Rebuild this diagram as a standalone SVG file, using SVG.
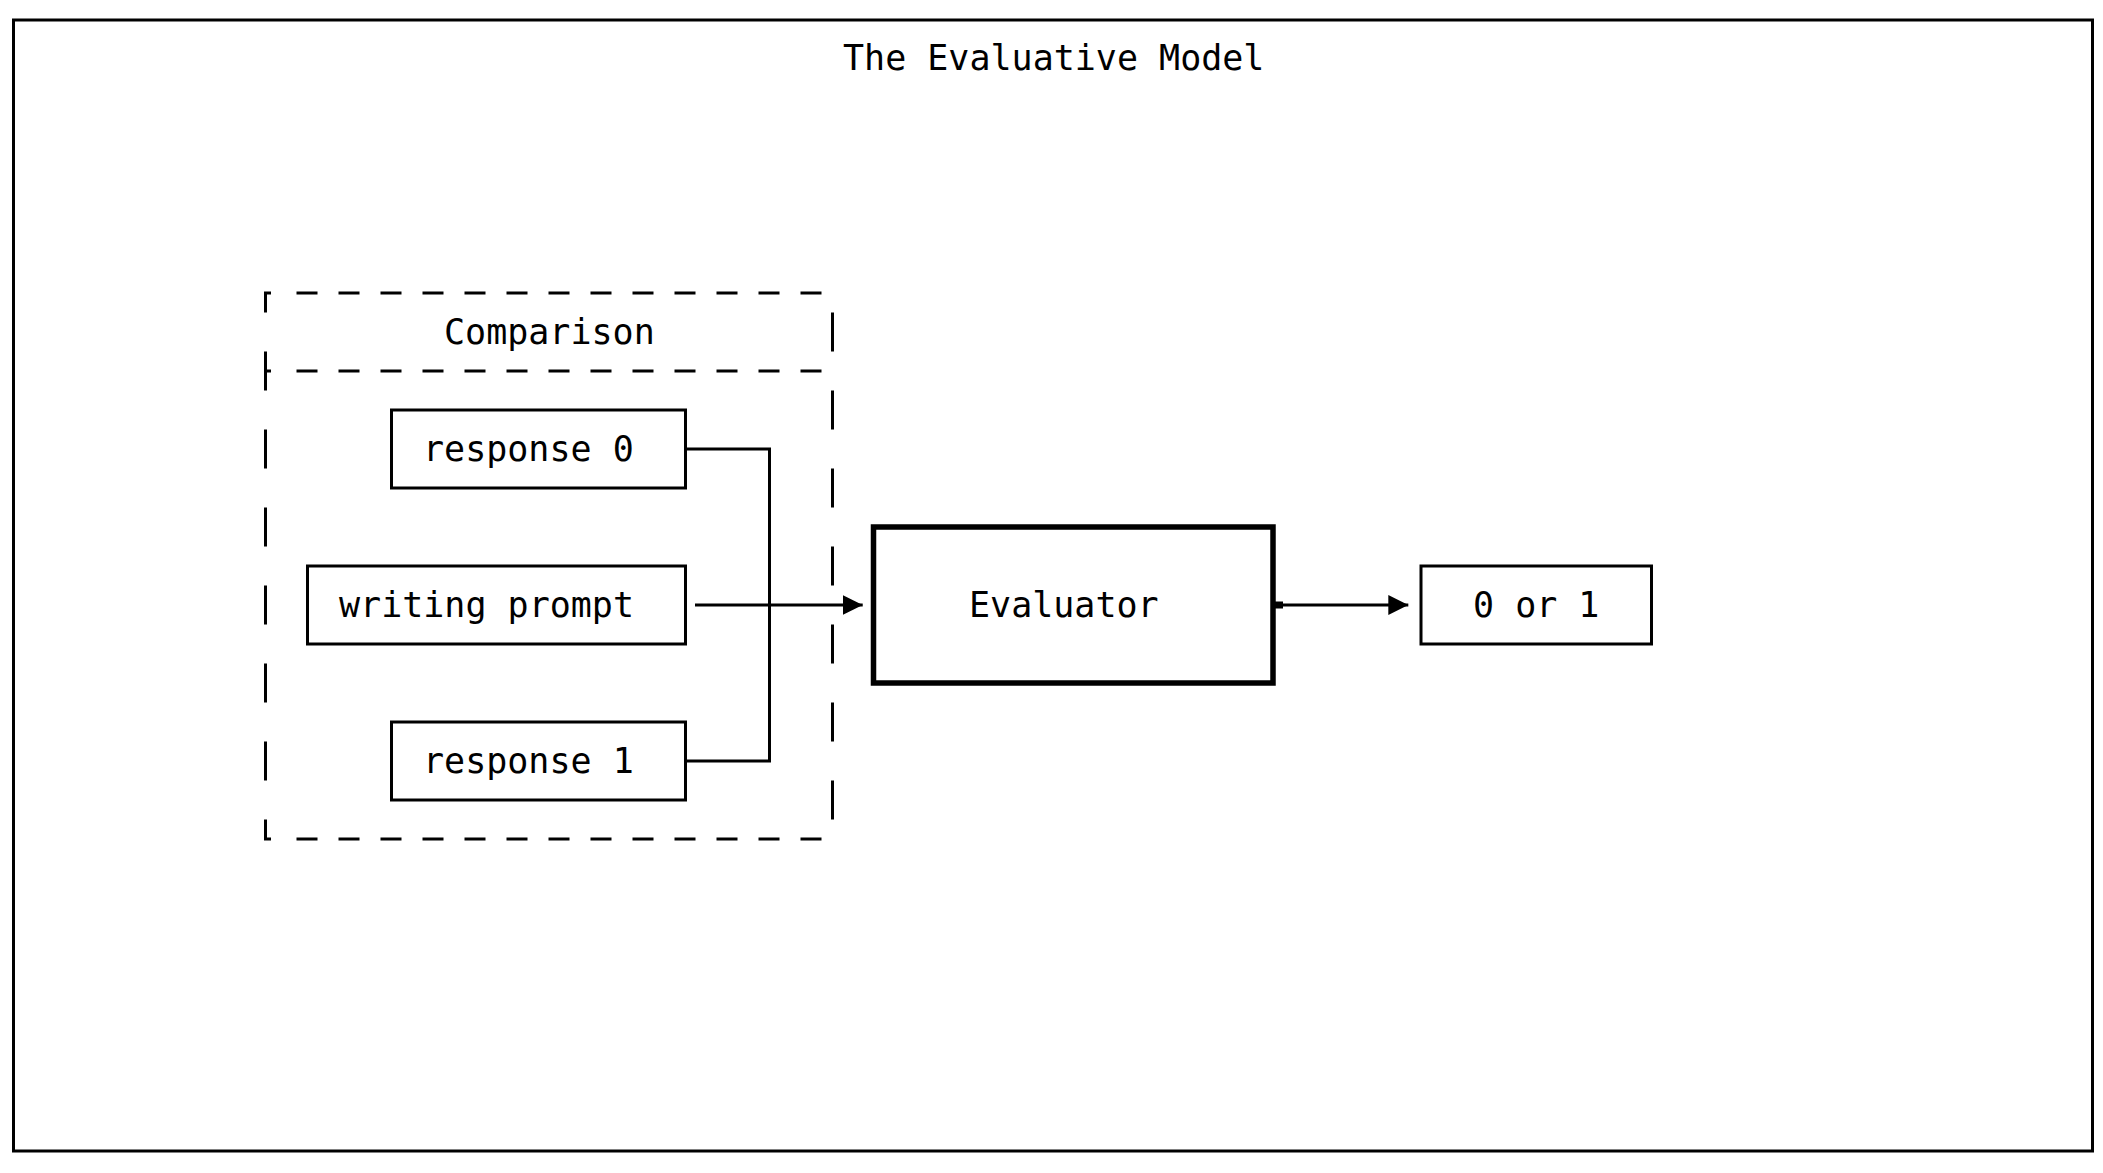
<svg xmlns="http://www.w3.org/2000/svg" width="2103" height="1173" viewBox="0 0 2103 1173">
<defs>
<style>
.t{font-family:"DejaVu Sans Mono","Liberation Mono",monospace;font-size:35px;fill:#000}
.box{fill:#fff;stroke:#000;stroke-width:3}
.thick{fill:#fff;stroke:#000;stroke-width:5.5}
.ln{fill:none;stroke:#000;stroke-width:3}
</style>
<marker id="arr" markerUnits="userSpaceOnUse" markerWidth="21" markerHeight="21" refX="20" refY="10" orient="auto" viewBox="0 0 21 21">
<path d="M0,0 L20,10 L0,20 z" fill="#000"/>
</marker>
</defs>
<rect x="0" y="0" width="2103" height="1173" fill="#fff"/>
<g id="frame">
<rect x="13.5" y="20" width="2079" height="1131" fill="none" stroke="#000" stroke-width="3"/>
<text class="t" x="843" y="70">The Evaluative Model</text>
</g>
<g id="comparison">
<path class="ln" d="M296.5 293 H821.5 M296.5 371 H821.5 M296.5 839 H821.5" stroke-dasharray="21 21"/>
<path class="ln" d="M832.5 312.5 V819.5" stroke-dasharray="39 39"/>
<path class="ln" d="M265.5 429.5 V780.5" stroke-dasharray="39 39"/>
<path class="ln" d="M271 293 H265.5 V312.5 M265.5 351.5 V390.5 M265.5 371 H271 M265.5 819.5 V839 H271"/>
<text class="t" x="444" y="343.5">Comparison</text>
</g>
<g id="response0">
<rect class="box" x="391.5" y="410" width="294" height="78"/>
<text class="t" x="423" y="460.5">response 0</text>
</g>
<g id="writing-prompt">
<rect class="box" x="307.5" y="566" width="378" height="78"/>
<text class="t" x="339" y="616.5">writing prompt</text>
</g>
<g id="response1">
<rect class="box" x="391.5" y="722" width="294" height="78"/>
<text class="t" x="423" y="772.5">response 1</text>
</g>
<g id="evaluator">
<rect class="thick" x="873.5" y="527" width="399.5" height="156"/>
<text class="t" x="969" y="616.5">Evaluator</text>
</g>
<g id="output">
<rect class="box" x="1421" y="566" width="230.5" height="78"/>
<text class="t" x="1473" y="616.5">0 or 1</text>
</g>
<g id="connectors">
<path class="ln" d="M685.5 449 H769.5 V761 H685.5"/>
<path class="ln" d="M695 605 H862.7" marker-end="url(#arr)"/>
<rect x="1273" y="601.5" width="10" height="7" fill="#000"/>
<path class="ln" d="M1275 605 H1408.3" marker-end="url(#arr)"/>
</g>
</svg>
